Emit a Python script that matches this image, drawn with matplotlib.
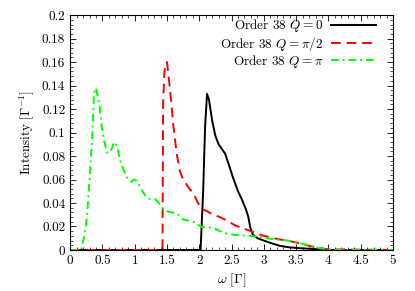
import matplotlib
matplotlib.use("Agg")
import matplotlib.pyplot as plt
from matplotlib.ticker import MultipleLocator, FormatStrFormatter

plt.rcParams["font.family"] = "serif"
plt.rcParams["font.serif"] = ["cmr10", "DejaVu Serif"]
plt.rcParams["mathtext.fontset"] = "cm"
plt.rcParams["axes.formatter.use_mathtext"] = True

# Q = 0
omega_q0 = [0.0, 2.02, 2.06, 2.09, 2.12, 2.15, 2.2, 2.25, 2.3, 2.35, 2.4, 2.45,
            2.52, 2.6, 2.66, 2.72, 2.76, 2.79, 2.83, 2.9, 3.0, 3.1, 3.25, 3.4,
            3.56, 3.8, 4.0, 5.0]
int_q0 = [0.0, 0.0, 0.05, 0.105, 0.133, 0.128, 0.11, 0.097, 0.09, 0.086, 0.082,
          0.074, 0.062, 0.05, 0.043, 0.035, 0.028, 0.019, 0.013, 0.010, 0.008,
          0.006, 0.0035, 0.0022, 0.0015, 0.0007, 0.0, 0.0]

# Q = pi/2
omega_q1 = [0.0, 1.43, 1.44, 1.46, 1.48, 1.5, 1.55, 1.6, 1.65, 1.7, 1.75, 1.8,
            1.85, 1.91, 1.97, 2.04, 2.12, 2.22, 2.32, 2.43, 2.55, 2.7, 2.85, 3.0,
            3.2, 3.4, 3.56, 3.7, 3.82, 4.0, 5.0]
int_q1 = [0.0, 0.0, 0.125, 0.152, 0.159, 0.16, 0.135, 0.105, 0.082, 0.067, 0.06,
          0.056, 0.052, 0.048, 0.041, 0.035, 0.033, 0.030, 0.028, 0.025, 0.021,
          0.018, 0.015, 0.012, 0.0095, 0.0075, 0.0057, 0.0035, 0.002, 0.0005, 0.0]

# Q = pi
omega_q2 = [0.0, 0.17, 0.22, 0.26, 0.3, 0.34, 0.37, 0.4, 0.45, 0.49, 0.53, 0.57,
            0.62, 0.67, 0.7, 0.74, 0.77, 0.81, 0.85, 0.9, 0.95, 0.99, 1.03, 1.06,
            1.1, 1.13, 1.17, 1.21, 1.26, 1.32, 1.36, 1.4, 1.44, 1.5, 1.57, 1.65,
            1.7, 1.75, 1.83, 1.91, 1.97, 2.02, 2.1, 2.17, 2.25, 2.32, 2.43, 2.53,
            2.65, 2.79, 2.92, 3.04, 3.17, 3.3, 3.43, 3.56, 3.7, 3.82, 3.97, 4.1, 5.0]
int_q2 = [0.0, 0.0, 0.012, 0.028, 0.06, 0.094, 0.134, 0.138, 0.125, 0.105, 0.092,
          0.083, 0.083, 0.09, 0.092, 0.085, 0.077, 0.071, 0.065, 0.060, 0.058,
          0.060, 0.059, 0.056, 0.052, 0.049, 0.046, 0.044, 0.043, 0.043, 0.041,
          0.038, 0.035, 0.033, 0.032, 0.031, 0.029, 0.026, 0.025, 0.024, 0.022,
          0.020, 0.019, 0.019, 0.018, 0.016, 0.014, 0.013, 0.0125, 0.012, 0.011,
          0.010, 0.009, 0.0085, 0.0075, 0.0057, 0.004, 0.002, 0.0006, 0.0, 0.0]

labels = [r"Order 38 $Q=0$", r"Order 38 $Q=\pi/2$", r"Order 38 $Q=\pi$"]

fig = plt.figure(figsize=(4.15, 2.91), dpi=100)
ax = fig.add_axes([0.169, 0.141, 0.778, 0.807])

ax.plot(omega_q0, int_q0, color="black", linewidth=1.4, label=labels[0])
ax.plot(omega_q1, int_q1, color="#ff0000", linewidth=1.4, linestyle=(0, (5, 3)),
        label=labels[1])
ax.plot(omega_q2, int_q2, color="#00ff00", linewidth=1.4,
        linestyle=(0, (4, 2, 1, 2)), label=labels[2])

ax.set_xlim(0, 5)
ax.set_ylim(0, 0.2)
ax.xaxis.set_major_locator(MultipleLocator(0.5))
ax.xaxis.set_minor_locator(MultipleLocator(0.1))
ax.yaxis.set_major_locator(MultipleLocator(0.02))
ax.yaxis.set_minor_locator(MultipleLocator(0.004))
ax.xaxis.set_major_formatter(FormatStrFormatter("%g"))
ax.yaxis.set_major_formatter(FormatStrFormatter("%g"))
ax.tick_params(which="both", direction="in", top=True, right=True, labelsize=9.5)
ax.tick_params(which="major", length=4, width=0.6)
ax.tick_params(which="minor", length=2, width=0.5)
for spine in ax.spines.values():
    spine.set_linewidth(0.8)

ax.set_xlabel(r"$\omega\ [\Gamma]$", fontsize=10, labelpad=3)
ax.set_ylabel(r"Intensity $[\Gamma^{-1}]$", fontsize=9.5, labelpad=4)

leg = ax.legend(loc="upper right", frameon=False, markerfirst=False, fontsize=9.5,
                handlelength=3.4, handletextpad=0.6, labelspacing=0.02,
                borderpad=0.0, borderaxespad=0.0, bbox_to_anchor=(0.947, 0.99))
vp = leg._legend_box._children[-1]._children[0]
vp.align = "right"

fig.savefig("out.png", dpi=100)
